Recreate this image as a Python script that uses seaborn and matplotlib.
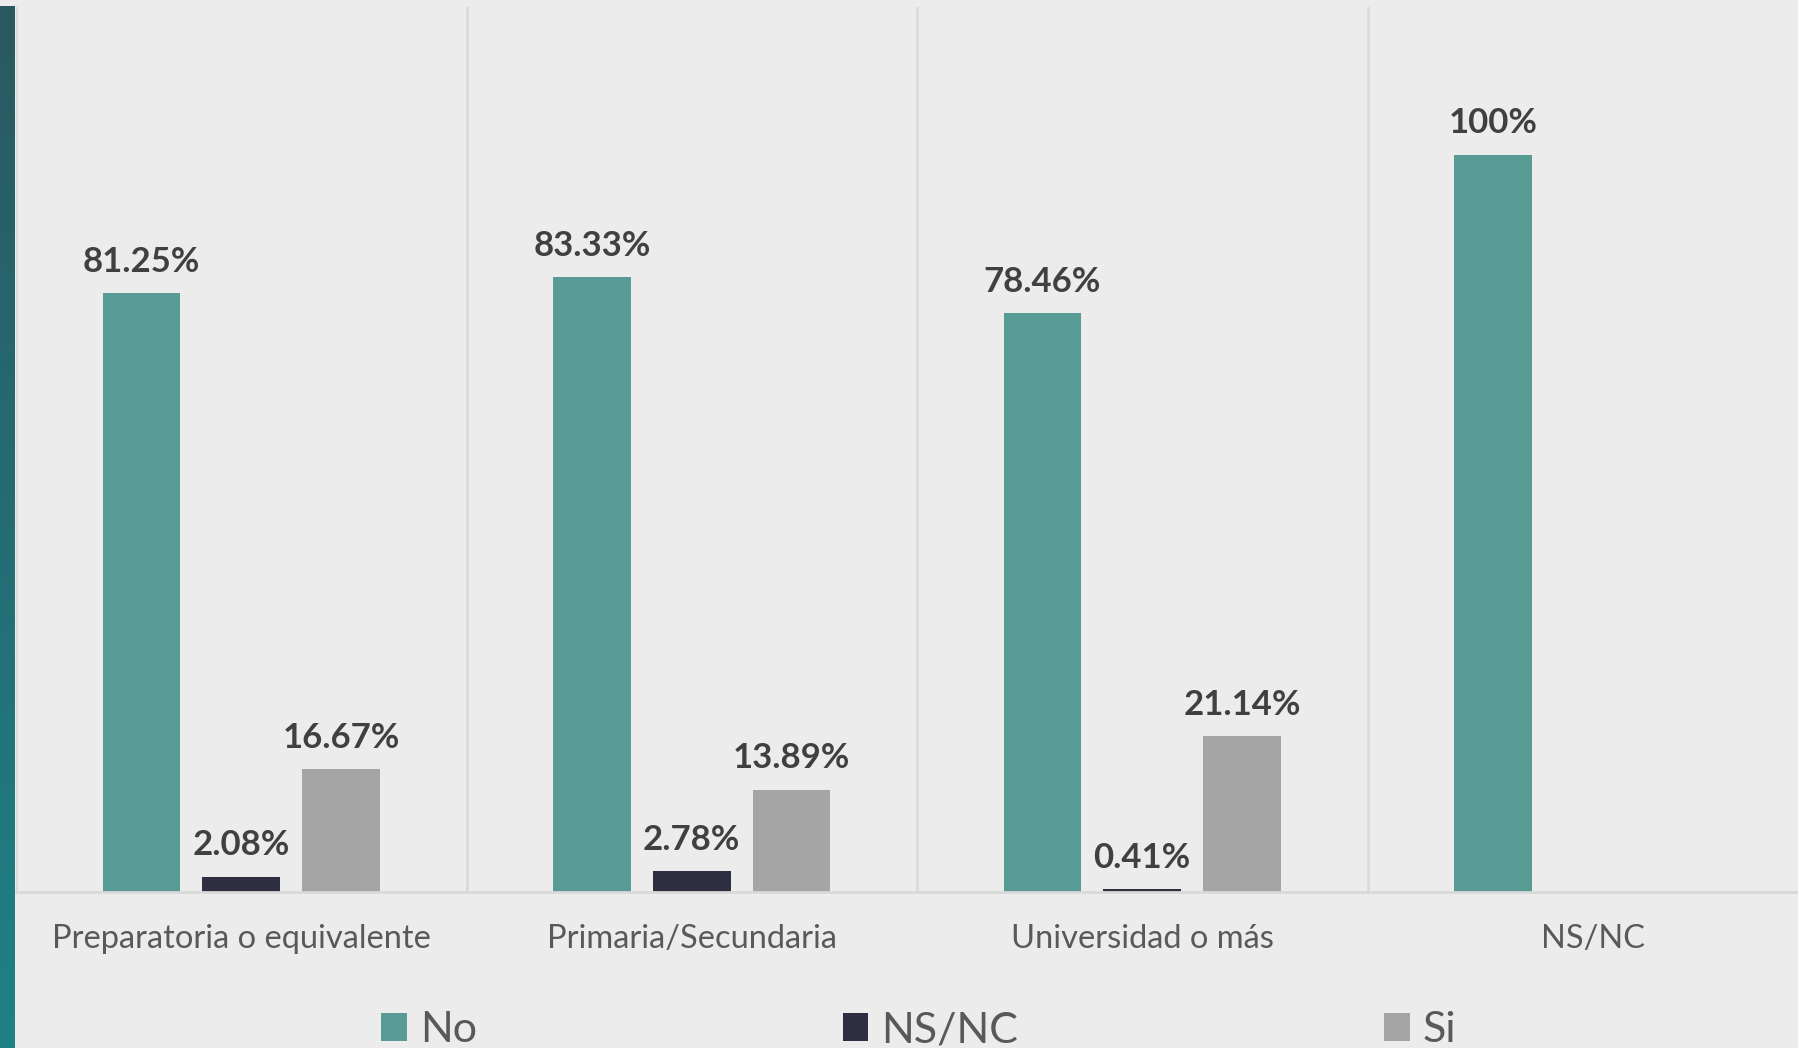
import matplotlib
matplotlib.use("Agg")
import matplotlib.pyplot as plt
from matplotlib.colors import LinearSegmentedColormap
import numpy as np
import pandas as pd
import seaborn as sns

# datos (porcentaje por nivel de estudios)
categories = ["Preparatoria o equivalente", "Primaria/Secundaria", "Universidad o más", "NS/NC"]
answers = ["No", "NS/NC", "Si"]
no_vals = [81.25, 83.33, 78.46, 100]
nsnc_vals = [2.08, 2.78, 0.41, None]
si_vals = [16.67, 13.89, 21.14, None]

colors = {"No": "#589a94", "NS/NC": "#2d2f40", "Si": "#a5a5a5"}
bg = "#ececec"

df = pd.DataFrame({"cat": categories, "No": no_vals, "NS/NC": nsnc_vals, "Si": si_vals})
df = df.melt(id_vars="cat", var_name="resp", value_name="pct").dropna()

sns.set_theme(style="white")
plt.rcParams["font.family"] = ["Lato", "DejaVu Sans"]

fig = plt.figure(figsize=(17.98, 10.48), dpi=100, facecolor=bg)
ax = fig.add_axes([16 / 1798, 1 - 892 / 1048, 1802 / 1798, 885 / 1048])
ax.set_facecolor(bg)

sns.barplot(data=df, x="cat", y="pct", hue="resp", order=categories, hue_order=answers,
            palette=colors, saturation=1, width=0.664, gap=0.22, errorbar=None,
            linewidth=0, ax=ax)

for c in ax.containers:
    ax.bar_label(c, fmt="{:g}%", padding=11, fontsize=25, fontweight="bold", color="#404040")

ax.set_xlim(-0.5, 3.5)
ax.set_ylim(0, 120)
ax.set_xlabel("")
ax.set_ylabel("")
ax.set_yticks([])
ax.tick_params(axis="x", length=0, pad=23, labelsize=23.5, labelcolor="#595959")
ax.set_xticks([-0.5, 0.5, 1.5, 2.5], minor=True)
ax.grid(which="minor", axis="x", color="#d9d9d9", linewidth=1.8)
ax.tick_params(which="minor", length=0)
sns.despine(ax=ax, left=True, bottom=True)
ax.axhline(0, color="#d9d9d9", linewidth=2, clip_on=False)

handles, labels = ax.get_legend_handles_labels()
ax.get_legend().remove()
leg = fig.legend(handles, labels, loc="center", bbox_to_anchor=(0.511, 0.017), ncol=3,
                 frameon=False, fontsize=31, handlelength=0.6, handleheight=0.6,
                 handletextpad=0.3, columnspacing=8.5)
for t in leg.get_texts():
    t.set_color("#595959")

# franja lateral con degradado
strip = fig.add_axes([0, 0, 15 / 1798, 1 - 6 / 1048])
cmap = LinearSegmentedColormap.from_list("strip", ["#2a5961", "#1e8185"])
strip.imshow(np.linspace(0, 1, 256).reshape(-1, 1), aspect="auto", cmap=cmap)
strip.axis("off")

fig.savefig("out.png", dpi=100, facecolor=bg)
